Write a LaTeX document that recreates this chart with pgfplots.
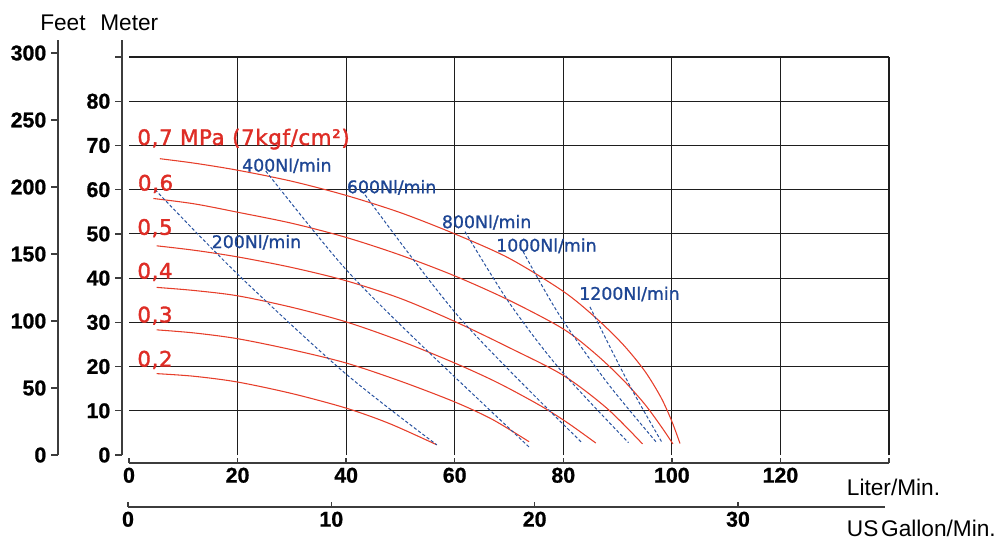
\documentclass[border=0pt]{standalone}
\usepackage{pgfplots}
\pgfplotsset{compat=1.18}
\usepackage{fontspec}
\setmainfont{Liberation Sans}
\newfontfamily\bluefont{DejaVu Sans}[FakeBold=1.2]
\newfontfamily\redfont{DejaVu Sans}[LetterSpace=3, FakeBold=1.6]
\newfontfamily\tickfont{Liberation Sans}[BoldFeatures={FakeBold=0.9}]
\definecolor{curvered}{RGB}{230,62,42}
\definecolor{lblred}{RGB}{222,45,38}
\definecolor{dblue}{RGB}{40,82,160}
\definecolor{lblblue}{RGB}{30,70,148}
\definecolor{gridc}{RGB}{30,30,30}
\definecolor{axisc}{RGB}{60,60,60}
\pgfplotsset{
  tlab/.style={font=\tickfont\fontsize{16}{18}\selectfont\bfseries},
  redc/.style={curvered, line width=0.8pt, smooth, tension=0.5},
  bluec/.style={dblue, line width=0.75pt, dash pattern=on 2.4pt off 1.6pt, smooth, tension=0.5},
}
\begin{document}
\begin{tikzpicture}
\useasboundingbox (0,0) rectangle (754.5pt,-405.75pt);

% ---------- main plot area ----------
\begin{axis}[
  at={(96.75pt,-341.25pt)}, anchor=south west,
  scale only axis, width=570pt, height=298.5pt,
  xmin=0, xmax=140, ymin=0, ymax=90,
  xtick={20,40,...,140}, ytick={10,20,...,90},
  xticklabels={}, yticklabels={},
  tick style={draw=none}, major tick length=0pt,
  axis line style={draw=none},
  grid=major,
  major grid style={gridc, line width=0.9pt},
  clip=false,
]
% pressure curves (MPa)
\addplot[redc] coordinates {(5.7,67.0) (12,66.0) (20,64.4) (30,61.9) (40,58.7) (50,54.8) (60,50.0) (70,44.5) (80,37.0) (86,31.0) (91,25.0) (95,19.0) (98,13.0) (100,7.6) (101.5,2.6)};
\addplot[redc] coordinates {(4.5,58.0) (12,56.8) (20,54.9) (30,52.4) (40,49.2) (50,45.2) (60,40.5) (70,35.0) (80,28.5) (86,22.8) (91,17.0) (95,11.5) (98,6.5) (100.2,2.5)};
\addplot[redc] coordinates {(5.1,47.3) (12,46.3) (20,44.8) (30,42.4) (40,39.4) (50,35.4) (60,30.2) (70,24.3) (80,18.0) (88,10.6) (94.6,2.5)};
\addplot[redc] coordinates {(5.1,37.9) (12,37.2) (20,36.0) (30,33.4) (40,30.1) (50,25.8) (60,20.8) (68,16.3) (76,11.0) (81,7.1) (86,2.7)};
\addplot[redc] coordinates {(5.1,28.3) (12,27.6) (20,26.3) (30,23.8) (40,20.8) (50,16.7) (60,12.0) (67,8.0) (73.7,3.0)};
\addplot[redc] coordinates {(5.1,18.4) (12,17.8) (20,16.5) (30,13.9) (40,10.6) (48,7.1) (56.7,2.3)};
% air consumption lines (Nl/min)
\addplot[bluec] coordinates {(4.8,60.0) (20,40.9) (39.7,18.6) (56.7,2.3)};
\addplot[bluec] coordinates {(25.2,64.2) (39.5,42.6) (53.3,25.5) (73.7,1.8)};
\addplot[bluec] coordinates {(43.5,58.8) (61.2,30.6) (83.5,2.7)};
\addplot[bluec] coordinates {(61.9,50.5) (70,34.5) (79.3,19.5) (92,2.8)};
\addplot[bluec] coordinates {(72.6,46.0) (79.1,32.0) (88,16.5) (97.2,2.8)};
\addplot[bluec] coordinates {(84.9,33.5) (92.2,15.8) (98.2,2.8)};
% pressure labels
\node[anchor=base west, inner sep=0, text=lblred, font=\redfont\fontsize{16}{18}\selectfont] at (axis cs:1.5,70.1) {0,7 MPa (7kgf/cm²)};
\node[anchor=base west, inner sep=0, text=lblred, font=\redfont\fontsize{16}{18}\selectfont] at (axis cs:1.6,59.8) {0,6};
\node[anchor=base west, inner sep=0, text=lblred, font=\redfont\fontsize{16}{18}\selectfont] at (axis cs:1.5,49.8) {0,5};
\node[anchor=base west, inner sep=0, text=lblred, font=\redfont\fontsize{16}{18}\selectfont] at (axis cs:1.5,39.9) {0,4};
\node[anchor=base west, inner sep=0, text=lblred, font=\redfont\fontsize{16}{18}\selectfont] at (axis cs:1.5,30.0) {0,3};
\node[anchor=base west, inner sep=0, text=lblred, font=\redfont\fontsize{16}{18}\selectfont] at (axis cs:1.5,20.0) {0,2};
% air labels
\node[anchor=base west, inner sep=0, text=lblblue, font=\bluefont\fontsize{13}{15}\selectfont] at (axis cs:20.8,64.1) {400Nl/min};
\node[anchor=base west, inner sep=0, text=lblblue, font=\bluefont\fontsize{13}{15}\selectfont] at (axis cs:40.1,59.2) {600Nl/min};
\node[anchor=base west, inner sep=0, text=lblblue, font=\bluefont\fontsize{13}{15}\selectfont] at (axis cs:57.6,51.3) {800Nl/min};
\node[anchor=base west, inner sep=0, text=lblblue, font=\bluefont\fontsize{13}{15}\selectfont] at (axis cs:67.6,46.0) {1000Nl/min};
\node[anchor=base west, inner sep=0, text=lblblue, font=\bluefont\fontsize{13}{15}\selectfont] at (axis cs:82.9,35.1) {1200Nl/min};
\node[anchor=base west, inner sep=0, text=lblblue, font=\bluefont\fontsize{13}{15}\selectfont] at (axis cs:15.2,46.8) {200Nl/min};
\end{axis}

% ---------- Meter axis ----------
\begin{axis}[
  at={(91.5pt,-341.25pt)}, anchor=south west,
  scale only axis, width=10pt, height=311.25pt,
  xmin=0, xmax=1, ymin=0, ymax=93.84,
  axis y line*=left, axis x line=none,
  ytick={0,10,...,90}, yticklabels={0,10,20,30,40,50,60,70,80,{}},
  tick align=outside, major tick length=5.25pt,
  tick style={axisc, line width=1pt},
  axis line style={axisc, line width=1.1pt},
  yticklabel style={tlab},
]
\end{axis}

% ---------- Feet axis ----------
\begin{axis}[
  at={(43.5pt,-341.25pt)}, anchor=south west,
  scale only axis, width=10pt, height=311.25pt,
  xmin=0, xmax=1, ymin=0, ymax=309.7,
  axis y line*=left, axis x line=none,
  ytick={0,50,...,300}, yticklabels={0,50,100,150,200,250,300},
  tick align=outside, major tick length=5.25pt,
  tick style={axisc, line width=1pt},
  axis line style={axisc, line width=1.1pt},
  yticklabel style={tlab},
]
\end{axis}

% ---------- Liter/Min axis ----------
\begin{axis}[
  at={(96.75pt,-347.25pt)}, anchor=south west,
  scale only axis, width=570pt, height=10pt,
  xmin=0, xmax=140, ymin=0, ymax=1,
  axis x line*=bottom, axis y line=none,
  xtick={0,20,...,140}, xticklabels={0,20,40,60,80,100,120,{}},
  tick align=inside, major tick length=3.5pt,
  tick style={axisc, line width=1pt},
  axis line style={axisc, line width=1.1pt},
  xticklabel style={tlab},
]
\end{axis}

% ---------- US Gallon/Min axis ----------
\begin{axis}[
  at={(96pt,-380.25pt)}, anchor=south west,
  scale only axis, width=567.75pt, height=10pt,
  xmin=0, xmax=37.23, ymin=0, ymax=1,
  axis x line*=bottom, axis y line=none,
  xtick={0,10,20,30}, xticklabels={0,10,20,30},
  tick align=inside, major tick length=3.5pt,
  tick style={axisc, line width=1pt},
  axis line style={axisc, line width=1.1pt},
  xticklabel style={tlab},
]
\end{axis}

% ---------- unit titles ----------
\node[anchor=base west, inner sep=0, font=\fontsize{17}{20}\selectfont] at (30pt,-23.25pt) {Feet};
\node[anchor=base west, inner sep=0, font=\fontsize{17}{20}\selectfont] at (75pt,-23.25pt) {Meter};
\node[anchor=base west, inner sep=0, font=\fontsize{17}{20}\selectfont] at (635pt,-371.25pt) {Liter/Min.};
\node[anchor=base west, inner sep=0, font=\fontsize{17}{20}\selectfont] at (635pt,-402pt) {US\hspace{0.12em}Gallon/Min.};
\end{tikzpicture}
\end{document}
